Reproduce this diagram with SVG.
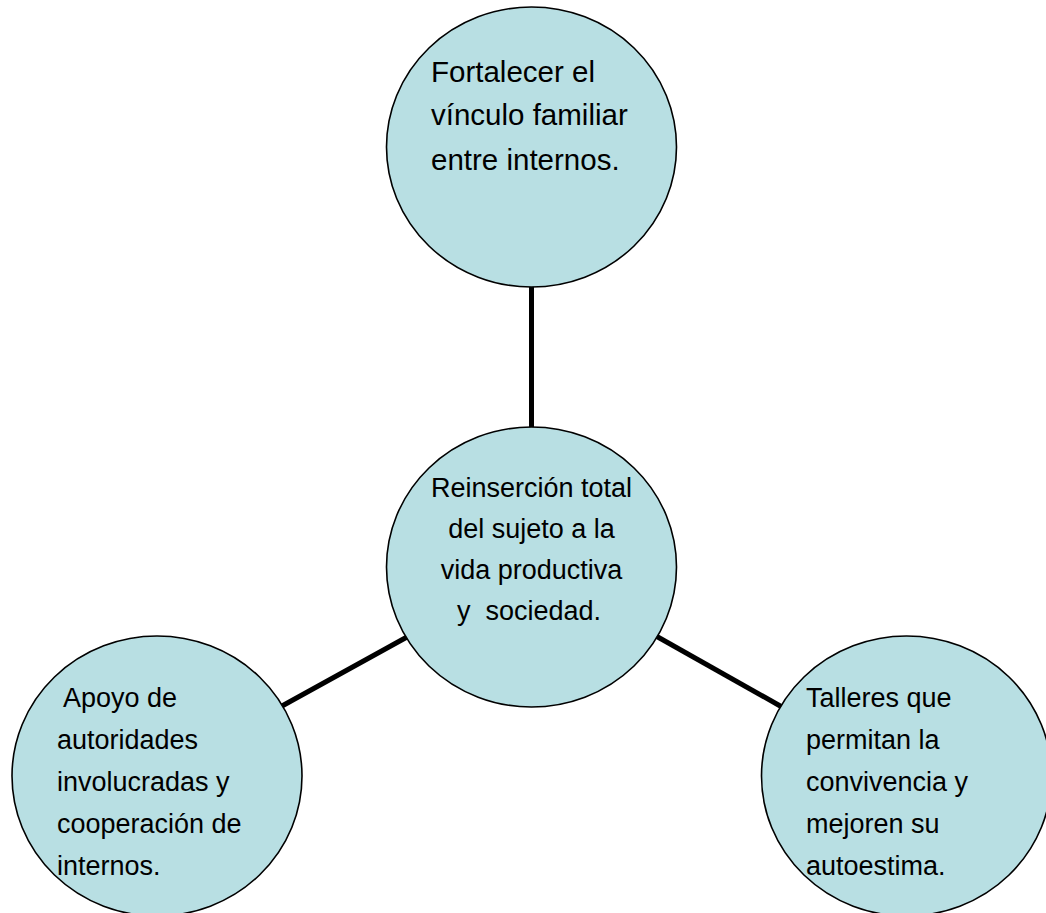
<svg xmlns="http://www.w3.org/2000/svg" width="1046" height="913" viewBox="0 0 1046 913">
<style>
.node{fill:#b8dfe3;stroke:#000;stroke-width:1.6}
.conn{stroke:#000;stroke-width:5;fill:none}
text{font-family:"Liberation Sans",Arial,sans-serif;font-size:27px;fill:#000;white-space:pre}
.big{font-size:29.5px}
.c{text-anchor:middle}
</style>
<rect width="1046" height="913" fill="#fff"/>
<g id="connectors">
<line class="conn" x1="531.5" y1="286" x2="531.5" y2="428"/>
<line class="conn" x1="282" y1="706" x2="407" y2="637"/>
<line class="conn" x1="656" y1="636" x2="782" y2="707"/>
</g>
<g id="node-top">
<ellipse class="node" cx="531.5" cy="147" rx="145" ry="140"/>
<text class="big" x="431" y="82">Fortalecer el</text>
<text class="big" x="431" y="125">vínculo familiar</text>
<text class="big" x="431" y="170">entre internos.</text>
</g>
<g id="node-center">
<ellipse class="node" cx="531.5" cy="567" rx="145" ry="140"/>
<text class="c" x="531.5" y="497">Reinserción total</text>
<text class="c" x="531.5" y="538">del sujeto a la</text>
<text class="c" x="531.5" y="579">vida productiva</text>
<text class="c" x="529" y="620">y  sociedad.</text>
</g>
<g id="node-left">
<ellipse class="node" cx="157" cy="776" rx="145" ry="140"/>
<text x="57" y="707"> Apoyo de</text>
<text x="57" y="749">autoridades</text>
<text x="57" y="791">involucradas y</text>
<text x="57" y="833">cooperación de</text>
<text x="57" y="875">internos.</text>
</g>
<g id="node-right">
<ellipse class="node" cx="906.5" cy="776" rx="145" ry="140"/>
<text x="806" y="707">Talleres que</text>
<text x="806" y="749">permitan la</text>
<text x="806" y="791">convivencia y</text>
<text x="806" y="833">mejoren su</text>
<text x="806" y="875">autoestima.</text>
</g>
</svg>
